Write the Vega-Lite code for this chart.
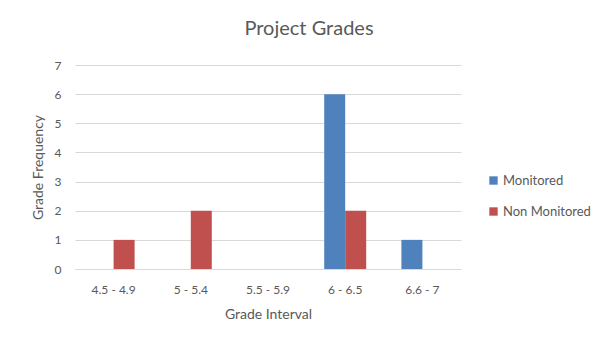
{
  "$schema": "https://vega.github.io/schema/vega-lite/v6.json",
  "width": 386,
  "height": 204,
  "autosize": {"type": "none"},
  "padding": {"left": 75, "top": 65, "right": 142, "bottom": 72},
  "background": "white",
  "title": {
    "text": "Project Grades",
    "fontSize": 20,
    "font": "Lato",
    "fontWeight": "normal",
    "color": "#595959",
    "anchor": "middle",
    "dx": 41,
    "offset": 20
  },
  "data": {
    "values": [
      {"interval": "4.5 - 4.9", "series": "Monitored", "count": 0},
      {"interval": "4.5 - 4.9", "series": "Non Monitored", "count": 1},
      {"interval": "5 - 5.4", "series": "Monitored", "count": 0},
      {"interval": "5 - 5.4", "series": "Non Monitored", "count": 2},
      {"interval": "5.5 - 5.9", "series": "Monitored", "count": 0},
      {"interval": "5.5 - 5.9", "series": "Non Monitored", "count": 0},
      {"interval": "6 - 6.5", "series": "Monitored", "count": 6},
      {"interval": "6 - 6.5", "series": "Non Monitored", "count": 2},
      {"interval": "6.6 - 7", "series": "Monitored", "count": 1},
      {"interval": "6.6 - 7", "series": "Non Monitored", "count": 0}
    ]
  },
  "mark": {"type": "bar"},
  "encoding": {
    "x": {
      "field": "interval",
      "type": "nominal",
      "sort": null,
      "title": "Grade Interval",
      "scale": {"paddingInner": 0.456, "paddingOuter": 0.228},
      "axis": {
        "labelAngle": 0,
        "labelFont": "Lato",
        "labelFontSize": 12,
        "labelColor": "#595959",
        "labelPadding": 15,
        "titleFont": "Lato",
        "titleFontSize": 14,
        "titleFontWeight": "normal",
        "titleColor": "#595959",
        "titlePadding": 12,
        "ticks": false,
        "domain": true,
        "domainColor": "#D9D9D9"
      }
    },
    "xOffset": {
      "field": "series",
      "type": "nominal",
      "sort": ["Monitored", "Non Monitored"],
      "scale": {"paddingInner": 0, "paddingOuter": 0}
    },
    "y": {
      "field": "count",
      "type": "quantitative",
      "title": "Grade Frequency",
      "scale": {"domain": [0, 7], "nice": false},
      "axis": {
        "values": [0, 1, 2, 3, 4, 5, 6, 7],
        "labelFont": "Lato",
        "labelFontSize": 12,
        "labelColor": "#595959",
        "labelPadding": 14,
        "titleFont": "Lato",
        "titleFontSize": 14,
        "titleFontWeight": "normal",
        "titleColor": "#595959",
        "titlePadding": 9,
        "ticks": false,
        "domain": false,
        "grid": true,
        "gridColor": "#D9D9D9"
      }
    },
    "color": {
      "field": "series",
      "type": "nominal",
      "sort": ["Monitored", "Non Monitored"],
      "scale": {"domain": ["Monitored", "Non Monitored"], "range": ["#4F81BD", "#C0504D"]},
      "legend": {
        "title": null,
        "orient": "none",
        "legendX": 412,
        "legendY": 109,
        "symbolType": "square",
        "symbolSize": 70,
        "symbolStrokeWidth": 0,
        "rowPadding": 17,
        "labelFont": "Lato",
        "labelFontSize": 13,
        "labelColor": "#595959",
        "labelOffset": 3
      }
    }
  },
  "config": {"view": {"stroke": null}}
}
